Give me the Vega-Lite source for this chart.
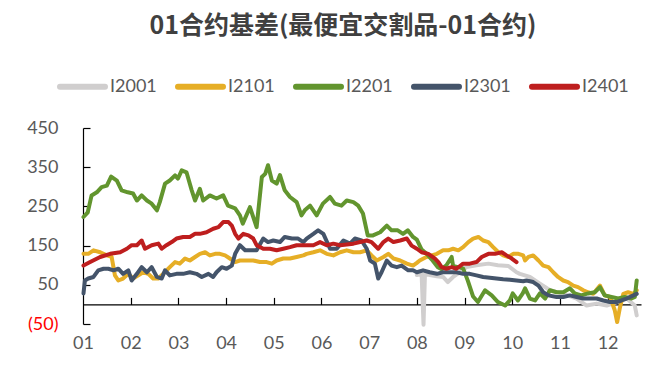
{
  "$schema": "https://vega.github.io/schema/vega-lite/v6.json",
  "width": 558,
  "height": 196,
  "autosize": {"type": "none"},
  "padding": {"left": 83, "top": 128, "right": 19, "bottom": 53},
  "background": "white",
  "config": {"view": {"stroke": null}, "font": "Lato", "axis": {"grid": false}},
  "title": {"text": "01合约基差(最便宜交割品-01合约)", "font": "Noto Sans CJK SC", "fontSize": 25, "fontWeight": "bold", "color": "#404040", "anchor": "middle", "frame": "group", "dx": -19, "offset": 22},
  "datasets": {
    "months": [{"m":0},{"m":1},{"m":2},{"m":3},{"m":4},{"m":5},{"m":6},{"m":7},{"m":8},{"m":9},{"m":10},{"m":11}],
    "series": [
      {"s":"I2001","t":7.00,"v":75},{"s":"I2001","t":7.10,"v":78},{"s":"I2001","t":7.14,"v":-52},{"s":"I2001","t":7.17,"v":78},{"s":"I2001","t":7.27,"v":75},{"s":"I2001","t":7.42,"v":72},{"s":"I2001","t":7.55,"v":70},{"s":"I2001","t":7.65,"v":57},{"s":"I2001","t":7.76,"v":70},{"s":"I2001","t":7.90,"v":82},{"s":"I2001","t":8.04,"v":95},{"s":"I2001","t":8.25,"v":100},{"s":"I2001","t":8.50,"v":104},{"s":"I2001","t":8.70,"v":100},{"s":"I2001","t":8.92,"v":98},{"s":"I2001","t":9.09,"v":82},{"s":"I2001","t":9.16,"v":78},{"s":"I2001","t":9.37,"v":70},{"s":"I2001","t":9.58,"v":53},{"s":"I2001","t":9.79,"v":36},{"s":"I2001","t":10.07,"v":27},{"s":"I2001","t":10.35,"v":15},{"s":"I2001","t":10.56,"v":-3},{"s":"I2001","t":10.77,"v":2},{"s":"I2001","t":10.98,"v":-3},{"s":"I2001","t":11.19,"v":6},{"s":"I2001","t":11.40,"v":15},{"s":"I2001","t":11.57,"v":-3},{"s":"I2001","t":11.61,"v":-28},
      {"s":"I2101","t":0.01,"v":129},{"s":"I2101","t":0.11,"v":129},{"s":"I2101","t":0.22,"v":138},{"s":"I2101","t":0.36,"v":133},{"s":"I2101","t":0.50,"v":125},{"s":"I2101","t":0.60,"v":121},{"s":"I2101","t":0.67,"v":74},{"s":"I2101","t":0.74,"v":61},{"s":"I2101","t":0.84,"v":66},{"s":"I2101","t":0.95,"v":78},{"s":"I2101","t":1.05,"v":66},{"s":"I2101","t":1.16,"v":74},{"s":"I2101","t":1.26,"v":82},{"s":"I2101","t":1.37,"v":78},{"s":"I2101","t":1.47,"v":66},{"s":"I2101","t":1.58,"v":66},{"s":"I2101","t":1.68,"v":78},{"s":"I2101","t":1.82,"v":95},{"s":"I2101","t":1.93,"v":108},{"s":"I2101","t":2.03,"v":104},{"s":"I2101","t":2.14,"v":117},{"s":"I2101","t":2.24,"v":112},{"s":"I2101","t":2.35,"v":121},{"s":"I2101","t":2.45,"v":129},{"s":"I2101","t":2.56,"v":133},{"s":"I2101","t":2.66,"v":125},{"s":"I2101","t":2.77,"v":129},{"s":"I2101","t":2.87,"v":129},{"s":"I2101","t":2.98,"v":125},{"s":"I2101","t":3.08,"v":117},{"s":"I2101","t":3.19,"v":108},{"s":"I2101","t":3.29,"v":112},{"s":"I2101","t":3.43,"v":112},{"s":"I2101","t":3.57,"v":112},{"s":"I2101","t":3.71,"v":108},{"s":"I2101","t":3.85,"v":108},{"s":"I2101","t":3.96,"v":104},{"s":"I2101","t":4.06,"v":112},{"s":"I2101","t":4.20,"v":117},{"s":"I2101","t":4.34,"v":117},{"s":"I2101","t":4.48,"v":121},{"s":"I2101","t":4.62,"v":125},{"s":"I2101","t":4.69,"v":129},{"s":"I2101","t":4.83,"v":133},{"s":"I2101","t":4.97,"v":138},{"s":"I2101","t":5.11,"v":129},{"s":"I2101","t":5.25,"v":125},{"s":"I2101","t":5.39,"v":133},{"s":"I2101","t":5.53,"v":138},{"s":"I2101","t":5.67,"v":133},{"s":"I2101","t":5.81,"v":133},{"s":"I2101","t":5.95,"v":138},{"s":"I2101","t":6.05,"v":125},{"s":"I2101","t":6.16,"v":112},{"s":"I2101","t":6.30,"v":121},{"s":"I2101","t":6.40,"v":129},{"s":"I2101","t":6.51,"v":117},{"s":"I2101","t":6.65,"v":112},{"s":"I2101","t":6.79,"v":104},{"s":"I2101","t":6.92,"v":99},{"s":"I2101","t":7.00,"v":106},{"s":"I2101","t":7.06,"v":112},{"s":"I2101","t":7.20,"v":121},{"s":"I2101","t":7.31,"v":125},{"s":"I2101","t":7.42,"v":129},{"s":"I2101","t":7.55,"v":138},{"s":"I2101","t":7.66,"v":138},{"s":"I2101","t":7.76,"v":142},{"s":"I2101","t":7.87,"v":138},{"s":"I2101","t":7.97,"v":146},{"s":"I2101","t":8.08,"v":159},{"s":"I2101","t":8.18,"v":168},{"s":"I2101","t":8.29,"v":172},{"s":"I2101","t":8.39,"v":163},{"s":"I2101","t":8.50,"v":159},{"s":"I2101","t":8.60,"v":146},{"s":"I2101","t":8.71,"v":133},{"s":"I2101","t":8.81,"v":125},{"s":"I2101","t":8.92,"v":121},{"s":"I2101","t":9.02,"v":129},{"s":"I2101","t":9.13,"v":129},{"s":"I2101","t":9.23,"v":125},{"s":"I2101","t":9.27,"v":112},{"s":"I2101","t":9.34,"v":121},{"s":"I2101","t":9.44,"v":125},{"s":"I2101","t":9.55,"v":112},{"s":"I2101","t":9.65,"v":99},{"s":"I2101","t":9.76,"v":95},{"s":"I2101","t":9.86,"v":82},{"s":"I2101","t":9.96,"v":70},{"s":"I2101","t":10.07,"v":61},{"s":"I2101","t":10.17,"v":57},{"s":"I2101","t":10.28,"v":48},{"s":"I2101","t":10.38,"v":44},{"s":"I2101","t":10.49,"v":36},{"s":"I2101","t":10.59,"v":31},{"s":"I2101","t":10.70,"v":27},{"s":"I2101","t":10.84,"v":48},{"s":"I2101","t":10.94,"v":23},{"s":"I2101","t":11.05,"v":19},{"s":"I2101","t":11.15,"v":-15},{"s":"I2101","t":11.20,"v":-45},{"s":"I2101","t":11.26,"v":-7},{"s":"I2101","t":11.33,"v":27},{"s":"I2101","t":11.43,"v":31},{"s":"I2101","t":11.54,"v":27},{"s":"I2101","t":11.61,"v":36},
      {"s":"I2201","t":0.01,"v":223},{"s":"I2201","t":0.10,"v":235},{"s":"I2201","t":0.18,"v":278},{"s":"I2201","t":0.29,"v":286},{"s":"I2201","t":0.39,"v":299},{"s":"I2201","t":0.50,"v":303},{"s":"I2201","t":0.59,"v":326},{"s":"I2201","t":0.71,"v":316},{"s":"I2201","t":0.81,"v":291},{"s":"I2201","t":0.94,"v":286},{"s":"I2201","t":1.05,"v":283},{"s":"I2201","t":1.13,"v":265},{"s":"I2201","t":1.23,"v":278},{"s":"I2201","t":1.34,"v":265},{"s":"I2201","t":1.44,"v":257},{"s":"I2201","t":1.55,"v":240},{"s":"I2201","t":1.61,"v":261},{"s":"I2201","t":1.72,"v":308},{"s":"I2201","t":1.82,"v":316},{"s":"I2201","t":1.93,"v":329},{"s":"I2201","t":1.99,"v":321},{"s":"I2201","t":2.07,"v":342},{"s":"I2201","t":2.17,"v":337},{"s":"I2201","t":2.28,"v":291},{"s":"I2201","t":2.35,"v":265},{"s":"I2201","t":2.45,"v":295},{"s":"I2201","t":2.52,"v":265},{"s":"I2201","t":2.66,"v":278},{"s":"I2201","t":2.80,"v":270},{"s":"I2201","t":2.94,"v":278},{"s":"I2201","t":3.04,"v":252},{"s":"I2201","t":3.19,"v":245},{"s":"I2201","t":3.29,"v":227},{"s":"I2201","t":3.35,"v":206},{"s":"I2201","t":3.50,"v":248},{"s":"I2201","t":3.64,"v":197},{"s":"I2201","t":3.75,"v":325},{"s":"I2201","t":3.82,"v":333},{"s":"I2201","t":3.88,"v":355},{"s":"I2201","t":3.96,"v":316},{"s":"I2201","t":4.06,"v":308},{"s":"I2201","t":4.13,"v":330},{"s":"I2201","t":4.23,"v":291},{"s":"I2201","t":4.34,"v":274},{"s":"I2201","t":4.48,"v":261},{"s":"I2201","t":4.58,"v":227},{"s":"I2201","t":4.65,"v":240},{"s":"I2201","t":4.76,"v":252},{"s":"I2201","t":4.90,"v":227},{"s":"I2201","t":5.03,"v":257},{"s":"I2201","t":5.18,"v":274},{"s":"I2201","t":5.28,"v":257},{"s":"I2201","t":5.42,"v":252},{"s":"I2201","t":5.53,"v":265},{"s":"I2201","t":5.67,"v":261},{"s":"I2201","t":5.77,"v":252},{"s":"I2201","t":5.87,"v":232},{"s":"I2201","t":5.97,"v":176},{"s":"I2201","t":6.08,"v":176},{"s":"I2201","t":6.23,"v":184},{"s":"I2201","t":6.37,"v":201},{"s":"I2201","t":6.47,"v":189},{"s":"I2201","t":6.60,"v":189},{"s":"I2201","t":6.71,"v":180},{"s":"I2201","t":6.81,"v":189},{"s":"I2201","t":6.92,"v":172},{"s":"I2201","t":7.00,"v":165},{"s":"I2201","t":7.10,"v":140},{"s":"I2201","t":7.20,"v":130},{"s":"I2201","t":7.31,"v":115},{"s":"I2201","t":7.44,"v":95},{"s":"I2201","t":7.52,"v":90},{"s":"I2201","t":7.62,"v":100},{"s":"I2201","t":7.73,"v":121},{"s":"I2201","t":7.76,"v":98},{"s":"I2201","t":7.86,"v":95},{"s":"I2201","t":7.97,"v":92},{"s":"I2201","t":8.07,"v":60},{"s":"I2201","t":8.18,"v":20},{"s":"I2201","t":8.28,"v":6},{"s":"I2201","t":8.43,"v":36},{"s":"I2201","t":8.57,"v":23},{"s":"I2201","t":8.70,"v":6},{"s":"I2201","t":8.85,"v":-3},{"s":"I2201","t":8.95,"v":10},{"s":"I2201","t":9.01,"v":28},{"s":"I2201","t":9.12,"v":10},{"s":"I2201","t":9.22,"v":28},{"s":"I2201","t":9.27,"v":41},{"s":"I2201","t":9.37,"v":15},{"s":"I2201","t":9.48,"v":10},{"s":"I2201","t":9.58,"v":28},{"s":"I2201","t":9.69,"v":15},{"s":"I2201","t":9.79,"v":36},{"s":"I2201","t":9.93,"v":31},{"s":"I2201","t":10.07,"v":31},{"s":"I2201","t":10.21,"v":41},{"s":"I2201","t":10.31,"v":28},{"s":"I2201","t":10.45,"v":23},{"s":"I2201","t":10.59,"v":28},{"s":"I2201","t":10.73,"v":31},{"s":"I2201","t":10.84,"v":44},{"s":"I2201","t":10.94,"v":23},{"s":"I2201","t":11.08,"v":19},{"s":"I2201","t":11.22,"v":15},{"s":"I2201","t":11.36,"v":19},{"s":"I2201","t":11.50,"v":15},{"s":"I2201","t":11.57,"v":19},{"s":"I2201","t":11.61,"v":61},
      {"s":"I2301","t":0.01,"v":28},{"s":"I2301","t":0.04,"v":61},{"s":"I2301","t":0.11,"v":66},{"s":"I2301","t":0.22,"v":70},{"s":"I2301","t":0.32,"v":87},{"s":"I2301","t":0.43,"v":91},{"s":"I2301","t":0.53,"v":91},{"s":"I2301","t":0.64,"v":87},{"s":"I2301","t":0.74,"v":91},{"s":"I2301","t":0.84,"v":78},{"s":"I2301","t":0.95,"v":87},{"s":"I2301","t":1.02,"v":61},{"s":"I2301","t":1.13,"v":78},{"s":"I2301","t":1.23,"v":95},{"s":"I2301","t":1.34,"v":82},{"s":"I2301","t":1.44,"v":95},{"s":"I2301","t":1.55,"v":70},{"s":"I2301","t":1.65,"v":66},{"s":"I2301","t":1.72,"v":87},{"s":"I2301","t":1.82,"v":74},{"s":"I2301","t":1.96,"v":78},{"s":"I2301","t":2.10,"v":78},{"s":"I2301","t":2.24,"v":82},{"s":"I2301","t":2.38,"v":78},{"s":"I2301","t":2.49,"v":70},{"s":"I2301","t":2.63,"v":78},{"s":"I2301","t":2.73,"v":70},{"s":"I2301","t":2.80,"v":82},{"s":"I2301","t":2.91,"v":95},{"s":"I2301","t":3.01,"v":91},{"s":"I2301","t":3.12,"v":99},{"s":"I2301","t":3.19,"v":129},{"s":"I2301","t":3.29,"v":151},{"s":"I2301","t":3.40,"v":138},{"s":"I2301","t":3.54,"v":138},{"s":"I2301","t":3.64,"v":138},{"s":"I2301","t":3.78,"v":168},{"s":"I2301","t":3.88,"v":159},{"s":"I2301","t":3.99,"v":163},{"s":"I2301","t":4.13,"v":159},{"s":"I2301","t":4.23,"v":172},{"s":"I2301","t":4.38,"v":168},{"s":"I2301","t":4.51,"v":168},{"s":"I2301","t":4.62,"v":159},{"s":"I2301","t":4.69,"v":168},{"s":"I2301","t":4.83,"v":180},{"s":"I2301","t":4.93,"v":189},{"s":"I2301","t":5.04,"v":180},{"s":"I2301","t":5.18,"v":142},{"s":"I2301","t":5.32,"v":142},{"s":"I2301","t":5.46,"v":163},{"s":"I2301","t":5.60,"v":155},{"s":"I2301","t":5.70,"v":168},{"s":"I2301","t":5.84,"v":163},{"s":"I2301","t":5.95,"v":142},{"s":"I2301","t":6.02,"v":112},{"s":"I2301","t":6.12,"v":104},{"s":"I2301","t":6.19,"v":66},{"s":"I2301","t":6.26,"v":82},{"s":"I2301","t":6.37,"v":112},{"s":"I2301","t":6.47,"v":99},{"s":"I2301","t":6.58,"v":95},{"s":"I2301","t":6.68,"v":99},{"s":"I2301","t":6.82,"v":87},{"s":"I2301","t":6.92,"v":87},{"s":"I2301","t":7.00,"v":82},{"s":"I2301","t":7.13,"v":87},{"s":"I2301","t":7.27,"v":82},{"s":"I2301","t":7.42,"v":78},{"s":"I2301","t":7.55,"v":82},{"s":"I2301","t":7.69,"v":82},{"s":"I2301","t":7.83,"v":82},{"s":"I2301","t":7.97,"v":78},{"s":"I2301","t":8.11,"v":78},{"s":"I2301","t":8.25,"v":74},{"s":"I2301","t":8.39,"v":70},{"s":"I2301","t":8.53,"v":68},{"s":"I2301","t":8.67,"v":66},{"s":"I2301","t":8.81,"v":64},{"s":"I2301","t":8.95,"v":63},{"s":"I2301","t":9.09,"v":61},{"s":"I2301","t":9.23,"v":59},{"s":"I2301","t":9.30,"v":61},{"s":"I2301","t":9.44,"v":57},{"s":"I2301","t":9.55,"v":48},{"s":"I2301","t":9.65,"v":31},{"s":"I2301","t":9.76,"v":23},{"s":"I2301","t":9.93,"v":19},{"s":"I2301","t":10.07,"v":19},{"s":"I2301","t":10.21,"v":23},{"s":"I2301","t":10.35,"v":19},{"s":"I2301","t":10.49,"v":15},{"s":"I2301","t":10.63,"v":15},{"s":"I2301","t":10.77,"v":15},{"s":"I2301","t":10.91,"v":10},{"s":"I2301","t":11.05,"v":6},{"s":"I2301","t":11.19,"v":6},{"s":"I2301","t":11.29,"v":10},{"s":"I2301","t":11.40,"v":15},{"s":"I2301","t":11.54,"v":23},{"s":"I2301","t":11.61,"v":27},
      {"s":"I2401","t":0.01,"v":99},{"s":"I2401","t":0.15,"v":108},{"s":"I2401","t":0.36,"v":121},{"s":"I2401","t":0.57,"v":129},{"s":"I2401","t":0.78,"v":133},{"s":"I2401","t":0.92,"v":142},{"s":"I2401","t":1.02,"v":151},{"s":"I2401","t":1.13,"v":151},{"s":"I2401","t":1.23,"v":163},{"s":"I2401","t":1.30,"v":142},{"s":"I2401","t":1.44,"v":151},{"s":"I2401","t":1.58,"v":155},{"s":"I2401","t":1.65,"v":142},{"s":"I2401","t":1.75,"v":151},{"s":"I2401","t":1.86,"v":159},{"s":"I2401","t":1.96,"v":168},{"s":"I2401","t":2.10,"v":172},{"s":"I2401","t":2.24,"v":172},{"s":"I2401","t":2.35,"v":180},{"s":"I2401","t":2.45,"v":180},{"s":"I2401","t":2.59,"v":184},{"s":"I2401","t":2.73,"v":193},{"s":"I2401","t":2.84,"v":197},{"s":"I2401","t":2.94,"v":210},{"s":"I2401","t":3.05,"v":210},{"s":"I2401","t":3.12,"v":201},{"s":"I2401","t":3.19,"v":180},{"s":"I2401","t":3.26,"v":168},{"s":"I2401","t":3.36,"v":180},{"s":"I2401","t":3.47,"v":176},{"s":"I2401","t":3.57,"v":168},{"s":"I2401","t":3.64,"v":151},{"s":"I2401","t":3.78,"v":142},{"s":"I2401","t":3.92,"v":142},{"s":"I2401","t":4.06,"v":138},{"s":"I2401","t":4.20,"v":142},{"s":"I2401","t":4.34,"v":146},{"s":"I2401","t":4.48,"v":151},{"s":"I2401","t":4.65,"v":151},{"s":"I2401","t":4.83,"v":151},{"s":"I2401","t":4.97,"v":159},{"s":"I2401","t":5.11,"v":151},{"s":"I2401","t":5.25,"v":155},{"s":"I2401","t":5.39,"v":151},{"s":"I2401","t":5.53,"v":153},{"s":"I2401","t":5.67,"v":155},{"s":"I2401","t":5.81,"v":159},{"s":"I2401","t":5.95,"v":163},{"s":"I2401","t":6.05,"v":159},{"s":"I2401","t":6.19,"v":142},{"s":"I2401","t":6.30,"v":159},{"s":"I2401","t":6.40,"v":168},{"s":"I2401","t":6.51,"v":159},{"s":"I2401","t":6.65,"v":163},{"s":"I2401","t":6.79,"v":168},{"s":"I2401","t":6.89,"v":150},{"s":"I2401","t":7.00,"v":142},{"s":"I2401","t":7.10,"v":133},{"s":"I2401","t":7.24,"v":129},{"s":"I2401","t":7.38,"v":117},{"s":"I2401","t":7.45,"v":108},{"s":"I2401","t":7.52,"v":95},{"s":"I2401","t":7.62,"v":91},{"s":"I2401","t":7.73,"v":95},{"s":"I2401","t":7.83,"v":91},{"s":"I2401","t":7.97,"v":104},{"s":"I2401","t":8.11,"v":104},{"s":"I2401","t":8.25,"v":108},{"s":"I2401","t":8.36,"v":121},{"s":"I2401","t":8.50,"v":129},{"s":"I2401","t":8.64,"v":129},{"s":"I2401","t":8.78,"v":133},{"s":"I2401","t":8.88,"v":125},{"s":"I2401","t":8.99,"v":117},{"s":"I2401","t":9.09,"v":108}
    ]
  },
  "layer": [
    {
      "data": {"name": "series"},
      "mark": {"type": "line", "strokeWidth": 4, "strokeJoin": "round", "strokeCap": "round"},
      "encoding": {
        "x": {"field": "t", "type": "quantitative", "scale": {"domain": [0, 11.7], "nice": false, "zero": false},
          "axis": {"orient": "bottom", "offset": -19.6, "values": [1,2,3,4,5,6,7,8,9,10,11], "tickSize": -7, "labels": false, "title": null, "domainColor": "#000000", "tickColor": "#000000", "domainWidth": 1.2, "tickWidth": 1.2}},
        "y": {"field": "v", "type": "quantitative", "scale": {"domain": [-50, 450], "nice": false},
          "axis": {"values": [-50,50,150,250,350,450], "tickSize": -7, "labelPadding": 32, "title": null, "labelFontSize": 18, "labelFont": "Lato",
            "labelExpr": "datum.value < 0 ? '(' + abs(datum.value) + ')' : datum.label",
            "labelColor": {"condition": {"test": "datum.value < 0", "value": "#FF0000"}, "value": "#595959"},
            "domainColor": "#000000", "tickColor": "#000000", "domainWidth": 1.2, "tickWidth": 1.2}},
        "color": {"field": "s", "type": "nominal",
          "scale": {"domain": ["I2001","I2101","I2201","I2301","I2401"], "range": ["#D0CECE","#E6AE26","#62952E","#44546A","#BE1E1E"]},
          "legend": {"orient": "none", "legendX": -26, "legendY": -67, "direction": "horizontal", "title": null, "symbolType": "stroke", "symbolSize": 2025, "symbolStrokeWidth": 6, "labelFontSize": 18, "labelFont": "Lato", "labelColor": "#595959", "labelOffset": 2, "columnPadding": 9,
            "encode": {"symbols": {"update": {"strokeCap": {"value": "round"}}}}}}
      }
    },
    {
      "data": {"name": "months"},
      "mark": {"type": "point", "opacity": 0},
      "encoding": {
        "x": {"field": "m", "type": "quantitative", "scale": {"domain": [0, 11.7], "nice": false, "zero": false},
          "axis": {"orient": "bottom", "values": [0,1,2,3,4,5,6,7,8,9,10,11], "labelExpr": "datum.value < 9 ? '0' + (datum.value + 1) : '' + (datum.value + 1)", "domain": false, "ticks": false, "labelFlush": false, "labelOverlap": false, "labelPadding": 10, "labelFontSize": 18, "labelFont": "Lato", "labelColor": "#595959", "title": null}}
      }
    }
  ],
  "resolve": {"scale": {"x": "independent"}, "axis": {"x": "independent"}}
}
